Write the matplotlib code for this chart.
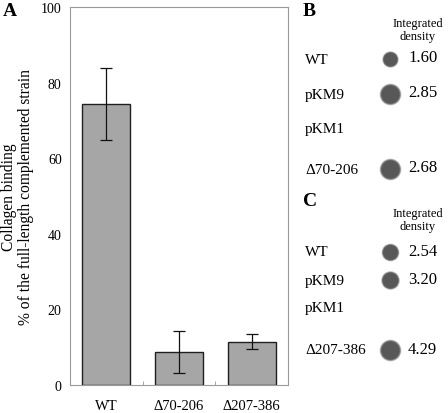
import matplotlib.pyplot as plt
import numpy as np

# panel A data
strains = ['WT', 'Δ70-206', 'Δ207-386']
binding = [74.3, 8.8, 11.5]
binding_err = [9.6, 5.5, 1.9]

# panel B / C dot blot data
b_labels = ['WT', 'pKM9', 'pKM1', 'Δ70-206']
b_density = ['1.60', '2.85', '', '2.68']
c_labels = ['WT', 'pKM9', 'pKM1', 'Δ207-386']
c_density = ['2.54', '3.20', '', '4.29']

plt.rcParams['font.family'] = ['Liberation Serif', 'DejaVu Serif']

fig = plt.figure(figsize=(4.48, 4.14), dpi=100)
W, H = 448, 414


def px_axes(x0, y0, x1, y1):
    return fig.add_axes([x0 / W, 1 - y1 / H, (x1 - x0) / W, (y1 - y0) / H])


# ---- panel A ----
ax = px_axes(70, 8, 288, 386)
x = np.arange(len(strains))
ax.bar(x, binding, width=0.66, color='#a6a6a6', edgecolor='#202020',
       linewidth=1.0, zorder=2)
ax.errorbar(x, binding, yerr=binding_err, fmt='none', ecolor='#111111',
            elinewidth=0.9, capsize=4, capthick=0.9, zorder=3)
ax.set_xlim(-0.5, len(strains) - 0.5)
ax.set_ylim(0, 100)
ax.set_yticks([0, 20, 40, 60, 80, 100])
ax.tick_params(axis='y', length=0, pad=6, labelsize=10)
ax.set_xticks(x)
ax.set_xticklabels(strains)
ax.tick_params(axis='x', length=0, pad=10, labelsize=10.5)
ax.set_xticks(x[:-1] + 0.5, minor=True)
ax.tick_params(axis='x', which='minor', direction='in', length=3,
               color='#999999')
for s in ax.spines.values():
    s.set_color('#9a9a9a')
    s.set_linewidth(0.8)
ax.set_ylabel('Collagen binding\n% of the full-length complemented strain',
              fontsize=11.2, linespacing=1.1, labelpad=5)
fig.text(3 / W, 1 - 12 / H, 'A', fontsize=14, fontweight='bold', va='center')


# ---- panels B and C ----
def dot_panel(y0, y1, letter, labels, dens, row_pos, sizes, unit, first):
    # unit: pixels per row, first: pixel offset of first row from panel top
    a = px_axes(288, y0, 448, y1)
    a.set_xlim(0, 160)
    top = -first / unit
    a.set_ylim(top + (y1 - y0) / unit, top)
    a.axis('off')
    a.text(15, top + 11 / unit, letter, fontsize=14, fontweight='bold',
           va='center')
    a.text(130, top + 24 / unit, 'Integrated', fontsize=9, ha='center',
           va='center')
    a.text(130, top + 37 / unit, 'density', fontsize=9, ha='center',
           va='center')
    for lab, d, r, s in zip(labels, dens, row_pos, sizes):
        a.text(17, r, lab, fontsize=11, va='center')
        if d:
            for k in range(6):
                a.scatter([102], [r], s=s * (1.3 - 0.06 * k) ** 2,
                          color='#585858', alpha=0.18 + 0.14 * k,
                          linewidths=0, zorder=2)
            a.text(120, r - 0.05, d, fontsize=12, va='center')
    return a


dot_panel(0, 190, 'B', b_labels, b_density, [0, 1, 2, 3.15],
          [85, 150, 0, 150], 35, 60)
dot_panel(190, 380, 'C', c_labels, c_density, [0, 1, 2, 3.5],
          [100, 110, 0, 150], 28, 63)

fig.savefig('out.png', dpi=100)
